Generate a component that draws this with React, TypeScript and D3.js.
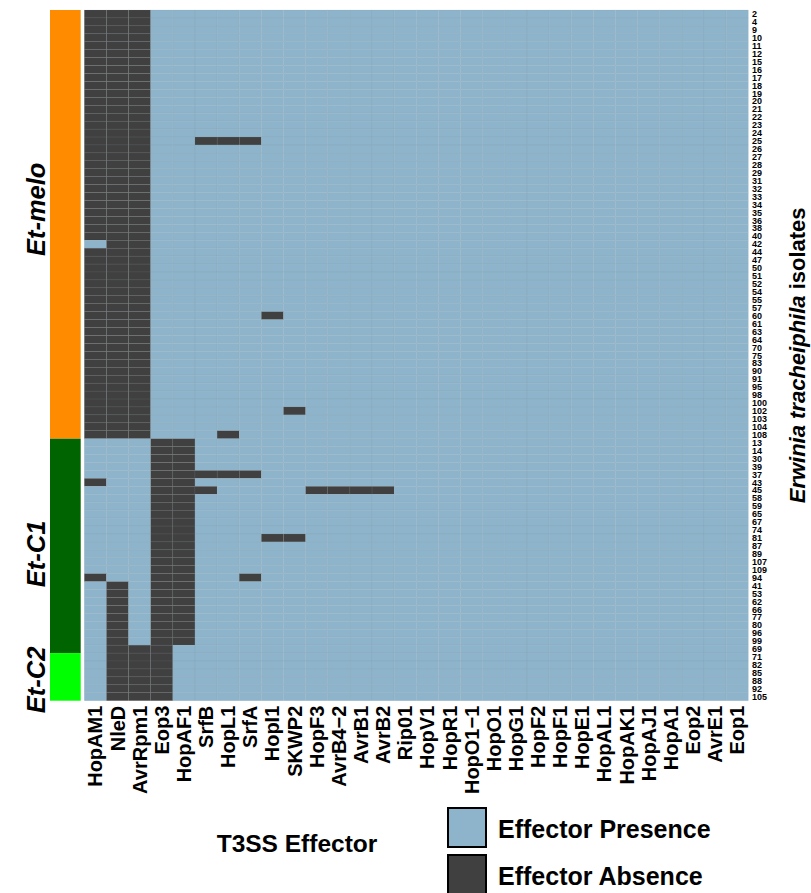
import React from "react";
import * as d3 from "d3";

// T3SS effectors (heatmap columns, left to right)
const effectors = [
  "HopAM1", "NleD", "AvrRpm1", "Eop3", "HopAF1", "SrfB", "HopL1", "SrfA",
  "HopI1", "SKWP2", "HopF3", "AvrB4−2", "AvrB1", "AvrB2", "Rip01", "HopV1",
  "HopR1", "HopO1−1", "HopO1", "HopG1", "HopF2", "HopF1", "HopE1", "HopAL1",
  "HopAK1", "HopAJ1", "HopA1", "Eop2", "AvrE1", "Eop1",
];

// Isolate groups, in row order
const groupNames = ["Et-melo", "Et-C1", "Et-C2"];
const groupCounts = [54, 27, 6];
const groupColors = ["#FF8C00", "#006400", "#00FF00"];
// vertical nudge of each group title from its band centre
const groupLabelShift = [-15, 8, 3];

// Shared absence profiles
const M = ["HopAM1", "NleD", "AvrRpm1"];
const C = ["Eop3", "HopAF1"];
const D = ["NleD", "Eop3", "HopAF1"];
const E = ["NleD", "AvrRpm1", "Eop3"];

// Each isolate with the effectors it lacks
const isolateAbsences: [string, string[]][] = [
  ["2", M], ["4", M], ["9", M], ["10", M], ["11", M], ["12", M], ["15", M],
  ["16", M], ["17", M], ["18", M], ["19", M], ["20", M], ["21", M], ["22", M],
  ["23", M], ["24", M], ["25", [...M, "SrfB", "HopL1", "SrfA"]], ["26", M],
  ["27", M], ["28", M], ["29", M], ["31", M], ["32", M], ["33", M], ["34", M],
  ["35", M], ["36", M], ["38", M], ["40", M], ["42", ["NleD", "AvrRpm1"]],
  ["44", M], ["47", M], ["50", M], ["51", M], ["52", M], ["54", M], ["55", M],
  ["57", M], ["60", [...M, "HopI1"]], ["61", M], ["63", M], ["64", M],
  ["70", M], ["75", M], ["83", M], ["90", M], ["91", M], ["95", M], ["98", M],
  ["100", M], ["102", [...M, "SKWP2"]], ["103", M], ["104", M],
  ["108", [...M, "HopL1"]],
  ["13", C], ["14", C], ["30", C], ["39", C],
  ["37", [...C, "SrfB", "HopL1", "SrfA"]], ["43", [...C, "HopAM1"]],
  ["45", [...C, "SrfB", "HopF3", "AvrB4−2", "AvrB1", "AvrB2"]],
  ["58", C], ["59", C], ["65", C], ["67", C], ["74", C],
  ["81", [...C, "HopI1", "SKWP2"]], ["87", C], ["89", C], ["107", C],
  ["109", C], ["94", [...C, "HopAM1", "SrfA"]],
  ["41", D], ["53", D], ["62", D], ["66", D], ["77", D], ["80", D], ["96", D],
  ["99", D],
  ["69", E], ["71", E], ["82", E], ["85", E], ["88", E], ["92", E], ["105", E],
];

const legendItems = ["Effector Presence", "Effector Absence"];

const W = 811;
const H = 893;
const FONT = "'Liberation Sans', Arial, Helvetica, sans-serif";
const PRESENT = "#8DB4CB";
const ABSENT = "#404040";

export default function App() {
  const isolates = isolateAbsences.map((d) => d[0]);
  const absentSets = new Map(isolateAbsences.map(([k, v]) => [k, new Set(v)]));

  const x = d3.scaleBand<string>().domain(effectors).range([84.3, 748.3]);
  const y = d3.scaleBand<string>().domain(isolates).range([10, 700.7]);
  const fill = d3
    .scaleOrdinal<string, string>()
    .domain(legendItems)
    .range([PRESENT, ABSENT]);

  // group extents along the row axis
  let start = 0;
  const groups = groupNames.map((name, i) => {
    const first = isolates[start];
    const last = isolates[start + groupCounts[i] - 1];
    start += groupCounts[i];
    const y0 = y(first)!;
    const y1 = y(last)! + y.bandwidth();
    return { name, y0, y1, color: groupColors[i], shift: groupLabelShift[i] };
  });

  const cells = [] as { e: string; r: string; absent: boolean }[];
  isolates.forEach((r) =>
    effectors.forEach((e) => cells.push({ e, r, absent: absentSets.get(r)!.has(e) }))
  );

  const [top, bottom] = y.range();

  return (
    <svg
      width={W}
      height={H}
      style={{ position: "absolute", left: 0, top: 0, background: "#fff" }}
      fontFamily={FONT}
    >
      {/* group annotation bar */}
      {groups.map((g) => (
        <rect key={g.name} x={50} y={g.y0} width={30.7} height={g.y1 - g.y0} fill={g.color} />
      ))}
      {groups.map((g) => (
        <text
          key={"l" + g.name}
          transform={`translate(36,${(g.y0 + g.y1) / 2 + g.shift}) rotate(-90)`}
          textAnchor="middle"
          dy="0.35em"
          fontSize={25.5}
          fontWeight="bold"
          fontStyle="italic"
        >
          {g.name}
        </text>
      ))}

      {/* heatmap cells */}
      {cells.map((c) => (
        <rect
          key={c.r + "_" + c.e}
          x={x(c.e)}
          y={y(c.r)}
          width={x.bandwidth()}
          height={y.bandwidth()}
          fill={fill(c.absent ? legendItems[1] : legendItems[0])}
          stroke="#7d8c96"
          strokeOpacity={0.22}
          strokeWidth={0.5}
        />
      ))}

      {/* isolate labels */}
      {isolates.map((r) => (
        <text
          key={"r" + r}
          x={752}
          y={y(r)! + y.bandwidth() / 2}
          dy="0.35em"
          fontSize={9}
          fontWeight="bold"
        >
          {r}
        </text>
      ))}

      {/* effector labels */}
      {effectors.map((e) => (
        <text
          key={"c" + e}
          transform={`translate(${x(e)! + x.bandwidth() / 2},${bottom + 5}) rotate(-90)`}
          textAnchor="end"
          dy="0.35em"
          fontSize={20}
          fontWeight="bold"
        >
          {e}
        </text>
      ))}

      {/* axis titles */}
      <text x={297} y={852} textAnchor="middle" fontSize={24.5} fontWeight="bold">
        T3SS Effector
      </text>
      <text
        transform={`translate(797,${(top + bottom) / 2}) rotate(-90)`}
        textAnchor="middle"
        dy="0.35em"
        fontSize={22}
        fontWeight="bold"
      >
        <tspan fontStyle="italic">Erwinia tracheiphila</tspan> isolates
      </text>

      {/* legend */}
      {legendItems.map((l, i) => (
        <g key={l} transform={`translate(448,${808 + i * 47})`}>
          <rect x={0} y={0} width={38} height={39} fill={fill(l)} stroke="#000" strokeWidth={2} />
          <text x={50} y={30} fontSize={25} fontWeight="bold">
            {l}
          </text>
        </g>
      ))}
    </svg>
  );
}
